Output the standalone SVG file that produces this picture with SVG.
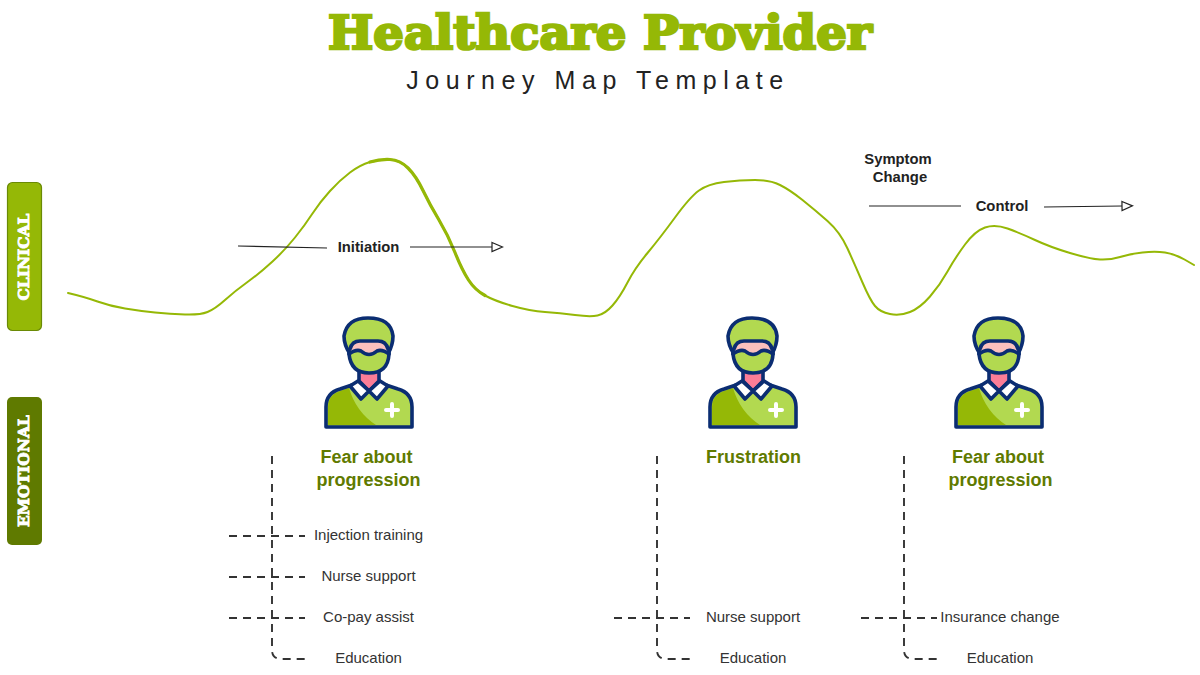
<svg xmlns="http://www.w3.org/2000/svg" xmlns:xlink="http://www.w3.org/1999/xlink" width="1200" height="675" viewBox="0 0 1200 675">
<style>
text{font-family:"Liberation Sans",Arial,sans-serif}
.title{font-family:"DejaVu Serif",serif;font-weight:700;font-size:46px;fill:#95b806;stroke:#95b806;stroke-width:2.6px}
.sub{font-size:25px;fill:#222;letter-spacing:6.55px}
.band{font-family:"DejaVu Serif",serif;font-weight:700;font-size:15px;fill:#fff;stroke:#fff;stroke-width:.9px}
.head{font-size:18px;font-weight:700;fill:#5f7a00}
.item{font-size:15px;fill:#333}
.phase{font-size:14.8px;font-weight:700;fill:#222}
.curve{fill:none;stroke:#95b806;stroke-width:2;stroke-linecap:round}
.thick{fill:none;stroke:#95b806;stroke-width:3.2;stroke-linecap:round}
.arrow{fill:none;stroke:#222;stroke-width:1.2}
.dash{fill:none;stroke:#333;stroke-width:1.9;stroke-dasharray:8 6}
.n{stroke:#0b2d72;stroke-width:3.6;stroke-linejoin:round;stroke-linecap:round}
</style>
<defs>
<marker id="tri" markerUnits="userSpaceOnUse" markerWidth="13" markerHeight="12" refX="1" refY="6" orient="auto"><path d="M1 1.500L11.500 6L1 10.500Z" fill="#fff" stroke="#222" stroke-width="1.200"/></marker>
<g id="provider">
<path fill="#b2d950" d="M326 427V407Q326 393 340 389L352 385H386L398 389Q412 393 412 407V427Z"/>
<path fill="#95b806" d="M328 425V407Q328 395 340 391L349 388Q356 412 376 425Z"/>
<path class="n" fill="none" d="M326 427V407Q326 393 340 389L352 385M386 385L398 389Q412 393 412 407V427H326"/>
<path class="n" fill="#fb7d97" stroke-width="3" d="M359 370V381L369 391L379 381V370Z"/>
<path class="n" fill="#fff" stroke-width="3" d="M358 381L350 386L361 399L369 391Z"/>
<path class="n" fill="#fff" stroke-width="3" d="M380 381L388 386L377 399L369 391Z"/>
<path class="n" fill="#b2d950" d="M350 354Q344 345 344 336Q347 318 368 318Q391 318 393 336Q393 345 388 354Z"/>
<path fill="#b2d950" d="M349 350V354Q351 373 369 373Q388 373 389 354V350Z"/>
<path fill="#fbc0bd" d="M350 353V349Q352 342 360 342H378Q386 342 388 349V353Q382 349 377 351Q369 358 361 351Q356 349 350 353Z"/>
<path class="n" fill="none" stroke-width="3.200" d="M349 354Q356 349 361 351Q369 358 377 351Q382 349 389 354"/>
<path class="n" fill="none" d="M349 350V354Q351 373 369 373Q388 373 389 354V350"/>
<path class="n" fill="none" stroke-width="2.400" d="M350 349Q352 341 360 341H378Q386 341 388 349"/>
<path d="M392 404V416M386 410H398" stroke="#fff" stroke-width="4" stroke-linecap="round" fill="none"/>
</g>
</defs>
<g id="title">
<text class="title" x="600" y="49" text-anchor="middle" textLength="544" lengthAdjust="spacingAndGlyphs">Healthcare Provider</text>
<text class="sub" x="598" y="89" text-anchor="middle">Journey Map Template</text>
</g>
<g id="band-clinical">
<rect x="7.500" y="182.500" width="34" height="148" rx="5" fill="#95b806" stroke="#6a8a05" stroke-width="1.200"/>
<text class="band" transform="translate(29 257) rotate(-90)" text-anchor="middle" textLength="87" lengthAdjust="spacingAndGlyphs">CLINICAL</text>
</g>
<g id="band-emotional">
<rect x="7" y="397" width="35" height="148" rx="5" fill="#5f7a00"/>
<text class="band" transform="translate(29 471) rotate(-90)" text-anchor="middle" textLength="112" lengthAdjust="spacingAndGlyphs">EMOTIONAL</text>
</g>
<g id="connectors">
<path class="curve" d="M68 293Q85 297 97.500 301.500Q110 306 125 308.500Q140 311 155 312.500Q170 314 185 314.500Q200 315 207.500 312Q215 309 225 300Q235 291 247.500 282Q260 273 272.500 261.500Q285 250 295 237.500Q305 225 312.500 213.500Q320 202 330 191Q340 180 350 172.500Q360 165 370 162Q380 159 390 159.500Q400 160 408 168Q416 176 423 190.500Q430 205 439 220Q448 235 455 252.500Q462 270 468.500 280Q475 290 485 295.500Q495 301 512.500 306Q530 311 545 312Q560 313 575 315Q590 317 597.500 315.500Q605 314 612.500 305.500Q620 297 627.500 282.500Q635 268 647.500 253Q660 238 675 217.500Q690 197 699 190.500Q708 184 724 182Q740 180 755 180Q770 180 780 185Q790 190 802.500 200Q815 210 827.500 221Q840 232 847.500 248.500Q855 265 862.500 282.500Q870 300 875 306Q880 312 890 314Q900 316 910 312Q920 308 930 296.500Q940 285 947.500 271.500Q955 258 965 244.500Q975 231 985 227.500Q995 224 1007.500 228.500Q1020 233 1035 240Q1050 247 1070 253Q1090 259 1100 259.500Q1110 260 1120 257Q1130 254 1142.500 252.500Q1155 251 1165 252.500Q1175 254 1184.500 259.500L1194 265"/>
<path class="thick" d="M370 162Q380 159 390 159.500Q400 160 408 168Q416 176 423 190.500Q430 205 439 220Q448 235 455 252.500Q462 270 468.500 280Q475 290 485 295.500"/>
<path class="arrow" d="M238 246L327 248"/>
<path class="arrow" marker-end="url(#tri)" d="M410 247H492"/>
<path class="arrow" d="M869 206H961"/>
<path class="arrow" marker-end="url(#tri)" d="M1044 207L1122 206"/>
<path class="dash" d="M272 456V650Q272 659 282 659H305"/>
<path class="dash" d="M229 536H305M229 577H305M229 618H305"/>
<path class="dash" d="M657 456V650Q657 659 667 659H690"/>
<path class="dash" d="M614 618H690"/>
<path class="dash" d="M904 456V650Q904 659 914 659H937"/>
<path class="dash" d="M861 618H937"/>
</g>
<g id="provider-1"><use href="#provider" xlink:href="#provider"/></g>
<g id="provider-2"><use href="#provider" xlink:href="#provider" x="384"/></g>
<g id="provider-3"><use href="#provider" xlink:href="#provider" x="630"/></g>
<g id="labels">
<text class="phase" x="368.500" y="252" text-anchor="middle">Initiation</text>
<text class="phase" x="898" y="163.500" text-anchor="middle">Symptom</text>
<text class="phase" x="900" y="182" text-anchor="middle">Change</text>
<text class="phase" x="1002" y="210.500" text-anchor="middle">Control</text>
<text class="head" x="366.500" y="463" text-anchor="middle">Fear about</text>
<text class="head" x="368.500" y="486" text-anchor="middle">progression</text>
<text class="head" x="753.500" y="463" text-anchor="middle">Frustration</text>
<text class="head" x="998" y="463" text-anchor="middle">Fear about</text>
<text class="head" x="1000.500" y="486" text-anchor="middle">progression</text>
<text class="item" x="368.500" y="539.500" text-anchor="middle">Injection training</text>
<text class="item" x="368.500" y="580.500" text-anchor="middle">Nurse support</text>
<text class="item" x="368.500" y="621.500" text-anchor="middle">Co-pay assist</text>
<text class="item" x="368.500" y="662.500" text-anchor="middle">Education</text>
<text class="item" x="753" y="621.500" text-anchor="middle">Nurse support</text>
<text class="item" x="753" y="662.500" text-anchor="middle">Education</text>
<text class="item" x="1000" y="621.500" text-anchor="middle">Insurance change</text>
<text class="item" x="1000" y="662.500" text-anchor="middle">Education</text>
</g>
</svg>
